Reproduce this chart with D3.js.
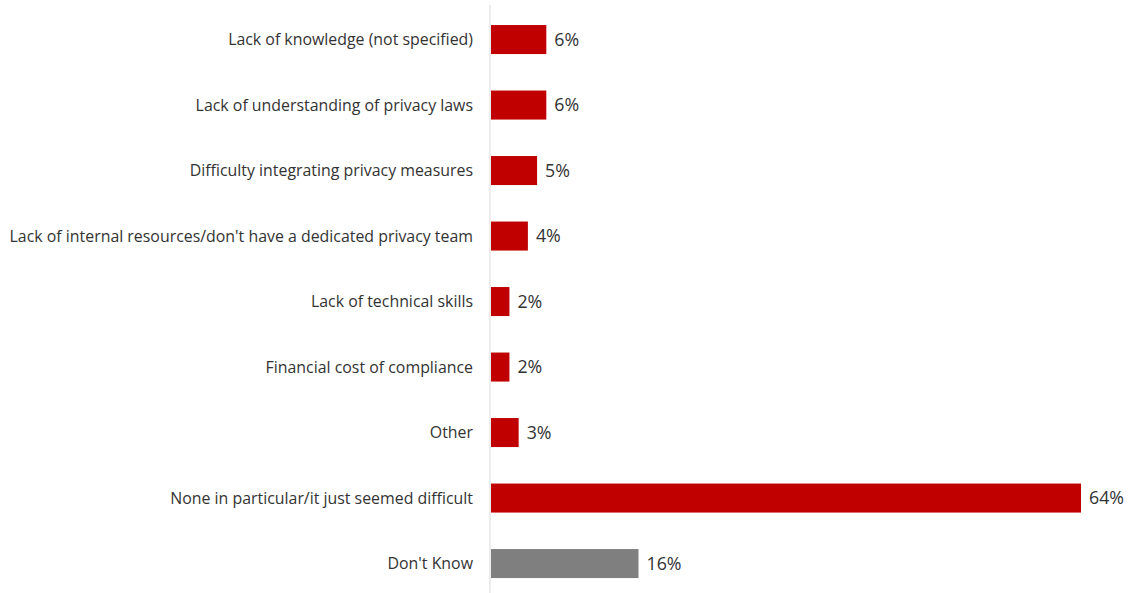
<!DOCTYPE html>
<html>
<head>
<meta charset="utf-8">
<script src="https://cdnjs.cloudflare.com/ajax/libs/d3/7.8.5/d3.min.js"></script>
<style>
  html, body { margin: 0; padding: 0; background: #ffffff; }
  svg { display: block; }
  text { font-family: "Open Sans", "Liberation Sans", sans-serif; }
</style>
</head>
<body>
<svg id="chart" width="1130" height="593"></svg>
<script>
// Reasons for difficulty, top to bottom
const categories = [
  "Lack of knowledge (not specified)",
  "Lack of understanding of privacy laws",
  "Difficulty integrating privacy measures",
  "Lack of internal resources/don't have a dedicated privacy team",
  "Lack of technical skills",
  "Financial cost of compliance",
  "Other",
  "None in particular/it just seemed difficult",
  "Don't Know"
];
const values = [6, 6, 5, 4, 2, 2, 3, 64, 16];
const highlight = [false, false, false, false, false, false, false, false, true];

const svg = d3.select("#chart");

const x = d3.scaleLinear().domain([0, 64]).range([491, 1081]);
const y = d3.scaleBand()
  .domain(categories)
  .range([6.8, 596.3])
  .paddingInner(0.557)
  .paddingOuter(0.2785);

// Vertical category axis line
svg.append("line")
  .attr("x1", 490).attr("x2", 490)
  .attr("y1", 5).attr("y2", 593)
  .attr("stroke", "#d9d9d9")
  .attr("stroke-width", 1);

// Bars
svg.selectAll("rect.bar")
  .data(categories)
  .join("rect")
  .attr("class", "bar")
  .attr("x", x(0))
  .attr("y", d => y(d))
  .attr("width", (d, i) => x(values[i]) - x(0))
  .attr("height", y.bandwidth())
  .attr("fill", (d, i) => highlight[i] ? "#7f7f7f" : "#c00000");

// Category labels
svg.selectAll("text.cat")
  .data(categories)
  .join("text")
  .attr("class", "cat")
  .attr("x", 473)
  .attr("y", d => y(d) + y.bandwidth() / 2)
  .attr("dy", "0.35em")
  .attr("text-anchor", "end")
  .attr("font-size", 15.9)
  .attr("fill", "#333333")
  .text(d => d);

// Value labels
svg.selectAll("text.val")
  .data(categories)
  .join("text")
  .attr("class", "val")
  .attr("x", (d, i) => x(values[i]) + 8)
  .attr("y", d => y(d) + y.bandwidth() / 2)
  .attr("dy", "0.36em")
  .attr("font-size", 17.8)
  .attr("fill", "#333333")
  .text((d, i) => values[i] + "%");
</script>
</body>
</html>
